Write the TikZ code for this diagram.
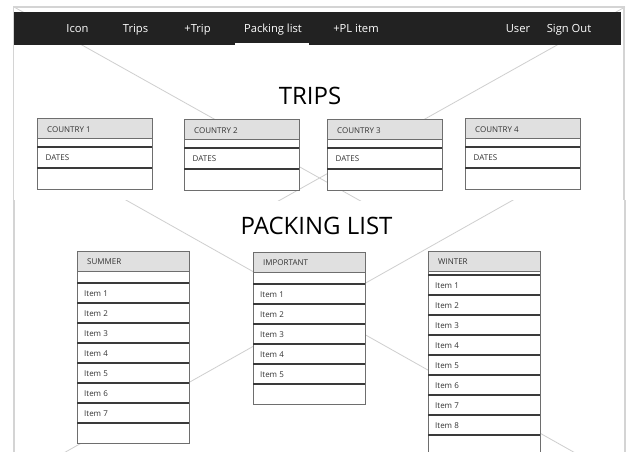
\documentclass[tikz,border=0pt]{standalone}
\usepackage{fontspec}
\setmainfont{Open Sans}
\definecolor{navbg}{HTML}{222222}
\definecolor{headgray}{HTML}{E0E0E0}
\definecolor{xline}{HTML}{CFCFCF}
\definecolor{rowline}{HTML}{3A3A3A}
\definecolor{boxline}{HTML}{6E6E6E}

\begin{document}
\begin{tikzpicture}[x=1pt,y=-1pt,
    navtext/.style={text=white, font=\fontsize{11.2}{13}\selectfont, anchor=base, inner sep=0pt},
    title/.style={font=\fontsize{24}{28}\selectfont, anchor=base, inner sep=0pt},
    lbl/.style={font=\fontsize{8}{9}\selectfont, anchor=base west, inner sep=0pt, text=black!80},
    frameline/.style={draw=black!17, line width=1.3pt},
    crossline/.style={draw=xline, line width=0.8pt},
    boxedge/.style={draw=boxline, line width=0.9pt},
    rowsep/.style={draw=rowline, line width=1.1pt}]

    \useasboundingbox (0,0) rectangle (640,452);
    \fill[white] (0,0) rectangle (640,452);

    % upper screen
    \begin{scope}
      \clip (0,0) rectangle (640,200);
      \draw[crossline] (14,7) -- (625,349);
      \draw[crossline] (625,7) -- (14,349);
    \end{scope}
    \draw[frameline] (13.5,200) -- (13.5,7) -- (624,7) -- (624,200);

    % lower screen
    \begin{scope}
      \clip (0,200) rectangle (640,452);
      \draw[crossline] (14,137) -- (625,481);
      \draw[crossline] (625,137) -- (14,481);
    \end{scope}
    \draw[frameline] (14,200) -- (14,452);
    \draw[frameline] (625,200) -- (625,452);

    % menu bar
    \fill[navbg] (14,12) rectangle (621,45);
    \fill[white] (235,43) rectangle (309,45);
    \node[navtext] (icon) at (77.5,33) {Icon};
    \node[navtext] (trips) at (135.5,33) {Trips};
    \node[navtext] (addtrip) at (197.5,33) {+Trip};
    \node[navtext] (plist) at (273,33) {Packing list};
    \node[navtext] (additem) at (356,33) {+PL item};
    \node[navtext] (user) at (518,33) {User};
    \node[navtext] (signout) at (569,33) {Sign Out};

    \node[title] (tripstitle) at (310,104) {TRIPS};
    \node[title] (listtitle) at (316.5,234) {PACKING LIST};

    % trip cards
    \foreach \x/\y/\n in {37/118/1, 184/119/2, 327/119/3, 465/118/4}{
      \draw[boxedge, fill=white] (\x,\y) rectangle ++(115,71);
      \draw[boxedge, fill=headgray] (\x,\y) rectangle ++(115,20);
      \draw[rowsep] (\x,\y+29) -- ++(115,0);
      \draw[rowsep] (\x,\y+50) -- ++(115,0);
      \node[lbl] (country\n) at (\x+10,\y+14) {COUNTRY \n};
      \node[lbl] (dates\n) at (\x+8.5,\y+42.5) {DATES};
    }

    % packing lists
    \foreach \x/\y/\strip/\k/\ttl in {77/251/32/7/SUMMER, 253/252/32/5/IMPORTANT, 428/251/24/8/WINTER}{
      \pgfmathsetmacro\boxbot{\y+\strip+20*(\k+1)}
      \draw[boxedge, fill=white] (\x,\y) rectangle (\x+112,\boxbot);
      \draw[boxedge, fill=headgray] (\x,\y) rectangle ++(112,20);
      \node[lbl] (\ttl) at (\x+10,\y+13.5) {\ttl};
      \foreach \i in {0,...,\k}
        \draw[rowsep] (\x,\y+\strip+20*\i) -- ++(112,0);
      \foreach \i in {1,...,\k}
        \node[lbl] (\ttl-\i) at (\x+7,\y+\strip+20*\i-7) {Item \i};
    }
  \end{tikzpicture}
\end{document}
